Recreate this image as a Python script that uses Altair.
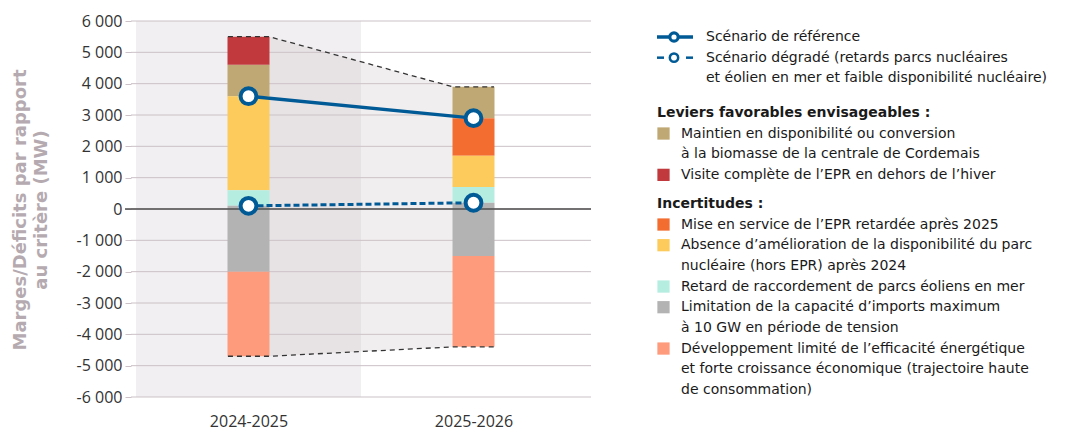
import altair as alt
import pandas as pd

# ---------------- data ----------------
YEARS = ["2024-2025", "2025-2026"]

SERIES_LINES = [
    ["Maintien en disponibilité ou conversion", "à la biomasse de la centrale de Cordemais"],
    ["Visite complète de l’EPR en dehors de l’hiver"],
    ["Mise en service de l’EPR retardée après 2025"],
    ["Absence d’amélioration de la disponibilité du parc", "nucléaire (hors EPR) après 2024"],
    ["Retard de raccordement de parcs éoliens en mer"],
    ["Limitation de la capacité d’imports maximum", "à 10 GW en période de tension"],
    ["Développement limité de l’efficacité énergétique",
     "et forte croissance économique (trajectoire haute", "de consommation)"],
]
SERIES = [" ".join(l) for l in SERIES_LINES]
SERIES_GROUP = ["lev", "lev", "inc", "inc", "inc", "inc", "inc"]
COLORS = ["#bfa873", "#c1393c", "#f36d31", "#fccb5b", "#b5ede0", "#b3b3b3", "#fe9b7d"]

# segment bounds per series, per year (None = absent)
SEG_LOW = [[3600, 2900], [4600, None], [None, 1700], [600, 700], [100, 200], [-2000, -1500], [-4700, -4400]]
SEG_HIGH = [[4600, 3900], [5500, None], [None, 2900], [3600, 1700], [600, 700], [100, 200], [-2000, -1500]]

REF = [3600, 2900]
DEG = [100, 200]

Y_TICKS = list(range(-6000, 6001, 1000))

SCEN_REF = "Scénario de référence"
SCEN_DEG = ["Scénario dégradé (retards parcs nucléaires",
            "et éolien en mer et faible disponibilité nucléaire)"]
LEV_TITLE = "Leviers favorables envisageables :"
INC_TITLE = "Incertitudes :"
Y_TITLE = ["Marges/Déficits par rapport", "au critère (MW)"]

# ---------------- layout / style ----------------
W, H = 460, 376
STEP = W / 2.0
BAR_PX = 42
HW = BAR_PX / 2.0 / STEP
BLUE = "#005a96"
TICK_FONT = "Open Sans"
LEG_FONT = "DejaVu Sans"

xs = alt.Scale(domain=[-0.5, 1.5], nice=False, zero=False)
ys = alt.Scale(domain=[-6000, 6000], nice=False, zero=False)
cs = alt.Scale(domain=SERIES, range=COLORS)

# bars
rows = []
for s, lows, highs in zip(SERIES, SEG_LOW, SEG_HIGH):
    for i in range(len(YEARS)):
        if lows[i] is not None:
            rows.append({"i": i, "lo": lows[i], "hi": highs[i], "series": s})
bars_df = pd.DataFrame(rows)

tops = [max(h[i] for h in SEG_HIGH if h[i] is not None) for i in range(2)]
bots = [min(l[i] for l in SEG_LOW if l[i] is not None) for i in range(2)]

band_df = pd.DataFrame({"a": [-0.5], "b": [0.5]})
trap_df = pd.DataFrame({"x": [0 + HW, 1 - HW], "top": tops, "bot": bots})
edge_rows = []
for name, vals in (("top", tops), ("bot", bots)):
    for k, (xx, v) in enumerate([(-HW, vals[0]), (HW, vals[0]), (1 - HW, vals[1]), (1 + HW, vals[1])]):
        edge_rows.append({"x": xx, "y": v, "edge": name, "k": k})
edge_df = pd.DataFrame(edge_rows)
grid_df = pd.DataFrame({"y": Y_TICKS})
ref_df = pd.DataFrame({"i": [0, 1], "v": REF})
deg_df = pd.DataFrame({"i": [0, 1], "v": DEG})

label_expr_y = ("datum.value == 0 ? '0' : (datum.value < 0 ? '-' : '') + "
                "format(abs(datum.value) / 1000, 'd') + ' 000'")
label_expr_x = "[" + ",".join("'%s'" % y for y in YEARS) + "][datum.value]"

band = alt.Chart(band_df).mark_rect(color="#f1eff1").encode(
    x=alt.X("a:Q", scale=xs, axis=None), x2="b:Q",
    y=alt.value(0), y2=alt.value(H))

grid = alt.Chart(grid_df).mark_rule(color="#cbc1c6", strokeWidth=1).encode(
    y=alt.Y("y:Q", scale=ys, axis=None), x=alt.value(0), x2=alt.value(W))

trap = alt.Chart(trap_df).mark_area(color="#cfc8cb", opacity=0.3).encode(
    x=alt.X("x:Q", scale=xs, axis=None),
    y=alt.Y("top:Q", scale=ys, axis=None), y2="bot:Q")

bars = alt.Chart(bars_df).mark_bar(size=BAR_PX).encode(
    x=alt.X("i:Q", scale=xs, axis=alt.Axis(
        orient="bottom", values=[0, 1], labelExpr=label_expr_x, title=None, domain=False,
        ticks=False, grid=False, labelFont=TICK_FONT, labelFontSize=16,
        labelColor="#333333", labelPadding=16, labelFlush=False)),
    y=alt.Y("lo:Q", scale=ys, axis=alt.Axis(
        orient="left", values=Y_TICKS, labelExpr=label_expr_y, title=None, domain=False,
        grid=False, tickColor="#cbc1c6", tickSize=6, labelFont=TICK_FONT, labelFontSize=16,
        labelColor="#333333", labelPadding=3)),
    y2="hi:Q",
    color=alt.Color("series:N", scale=cs, legend=None))

edges = alt.Chart(edge_df).mark_line(color="#333333", strokeDash=[5, 4], strokeWidth=1.3).encode(
    x=alt.X("x:Q", scale=xs, axis=None), y=alt.Y("y:Q", scale=ys, axis=None),
    detail="edge:N", order="k:Q")

zero = alt.Chart(pd.DataFrame({"y": [0]})).mark_rule(color="#4d4d4d", strokeWidth=1.3).encode(
    y=alt.Y("y:Q", scale=ys, axis=None), x=alt.value(-6), x2=alt.value(W))

ref_line = alt.Chart(ref_df).mark_line(color=BLUE, strokeWidth=3.5).encode(
    x=alt.X("i:Q", scale=xs, axis=None), y=alt.Y("v:Q", scale=ys, axis=None))
deg_line = alt.Chart(deg_df).mark_line(color=BLUE, strokeWidth=3, strokeDash=[6, 3]).encode(
    x=alt.X("i:Q", scale=xs, axis=None), y=alt.Y("v:Q", scale=ys, axis=None))
ref_pts = alt.Chart(ref_df).mark_circle(size=250, fill="white", stroke=BLUE, strokeWidth=4, opacity=1).encode(
    x=alt.X("i:Q", scale=xs, axis=None), y=alt.Y("v:Q", scale=ys, axis=None))
deg_pts = alt.Chart(deg_df).mark_circle(size=250, fill="white", stroke=BLUE, strokeWidth=4, opacity=1).encode(
    x=alt.X("i:Q", scale=xs, axis=None), y=alt.Y("v:Q", scale=ys, axis=None))

# ---------------- y title ----------------
ytitle = alt.Chart(pd.DataFrame({"d": [0]})).mark_text(
    text=Y_TITLE, angle=270, font=LEG_FONT, fontWeight="bold", fontSize=18,
    color="#b5aab0", lineHeight=21, align="center", baseline="middle").encode(
    x=alt.value(-110), y=alt.value(189))

# ---------------- legend ----------------
LH = 20.67
LX_SYM = 526
LX_SCEN = 575
LX_ITEM = 550
y = 16
norm_rows, bold_rows, sq_rows = [], [], []
norm_rows.append({"t": SCEN_REF, "px": LX_SCEN, "py": y})
y_ref = y
y += LH
y_deg = y
for line in SCEN_DEG:
    norm_rows.append({"t": line, "px": LX_SCEN, "py": y})
    y += LH
y += 34.5 - LH
for grp, title, gap_after in (("lev", LEV_TITLE, 29), ("inc", INC_TITLE, 0)):
    bold_rows.append({"t": title, "px": LX_SYM, "py": y})
    y += LH
    for s, lines, g in zip(SERIES, SERIES_LINES, SERIES_GROUP):
        if g != grp:
            continue
        sq_rows.append({"series": s, "px": LX_SYM + 6.5, "py": y})
        for line in lines:
            norm_rows.append({"t": line, "px": LX_ITEM, "py": y})
            y += LH
    y += gap_after - LH

leg_text = alt.Chart(pd.DataFrame(norm_rows)).mark_text(
    font=LEG_FONT, fontSize=14, color="#1a1a1a", align="left", baseline="middle").encode(
    x=alt.X("px:Q", scale=None, axis=None), y=alt.Y("py:Q", scale=None, axis=None), text="t:N")
leg_bold = alt.Chart(pd.DataFrame(bold_rows)).mark_text(
    font=LEG_FONT, fontSize=14, fontWeight="bold", color="#1a1a1a", align="left", baseline="middle").encode(
    x=alt.X("px:Q", scale=None, axis=None), y=alt.Y("py:Q", scale=None, axis=None), text="t:N")
leg_sq = alt.Chart(pd.DataFrame(sq_rows)).mark_square(size=150, opacity=1).encode(
    x=alt.X("px:Q", scale=None, axis=None), y=alt.Y("py:Q", scale=None, axis=None),
    color=alt.Color("series:N", scale=cs, legend=None))

one = pd.DataFrame({"d": [0]})
sym_ref_line = alt.Chart(one).mark_rule(color=BLUE, strokeWidth=3.5).encode(
    x=alt.value(LX_SYM), x2=alt.value(LX_SYM + 36), y=alt.value(y_ref))
sym_deg_l = alt.Chart(one).mark_rule(color=BLUE, strokeWidth=2.5).encode(
    x=alt.value(LX_SYM), x2=alt.value(LX_SYM + 7), y=alt.value(y_deg))
sym_deg_r = alt.Chart(one).mark_rule(color=BLUE, strokeWidth=2.5).encode(
    x=alt.value(LX_SYM + 29), x2=alt.value(LX_SYM + 36), y=alt.value(y_deg))
sym_ref_c = alt.Chart(one).mark_circle(size=70, fill="white", stroke=BLUE, strokeWidth=3.2, opacity=1).encode(
    x=alt.value(LX_SYM + 17), y=alt.value(y_ref))
sym_deg_c = alt.Chart(one).mark_circle(size=70, fill="white", stroke=BLUE, strokeWidth=2.5, opacity=1).encode(
    x=alt.value(LX_SYM + 17), y=alt.value(y_deg))

chart = alt.layer(
    band, grid, trap, bars, edges, zero, ref_line, deg_line, ref_pts, deg_pts,
    ytitle, leg_text, leg_bold, leg_sq, sym_ref_line, sym_deg_l, sym_deg_r, sym_ref_c, sym_deg_c
).resolve_axis(x="independent", y="independent").properties(
    width=W, height=H,
    autosize=alt.AutoSizeParams(type="none"),
    padding={"left": 123, "top": 13, "right": 493, "bottom": 31},
).configure_view(stroke=None)

chart.save("out.html", embed_options={"renderer": "svg", "actions": False})
